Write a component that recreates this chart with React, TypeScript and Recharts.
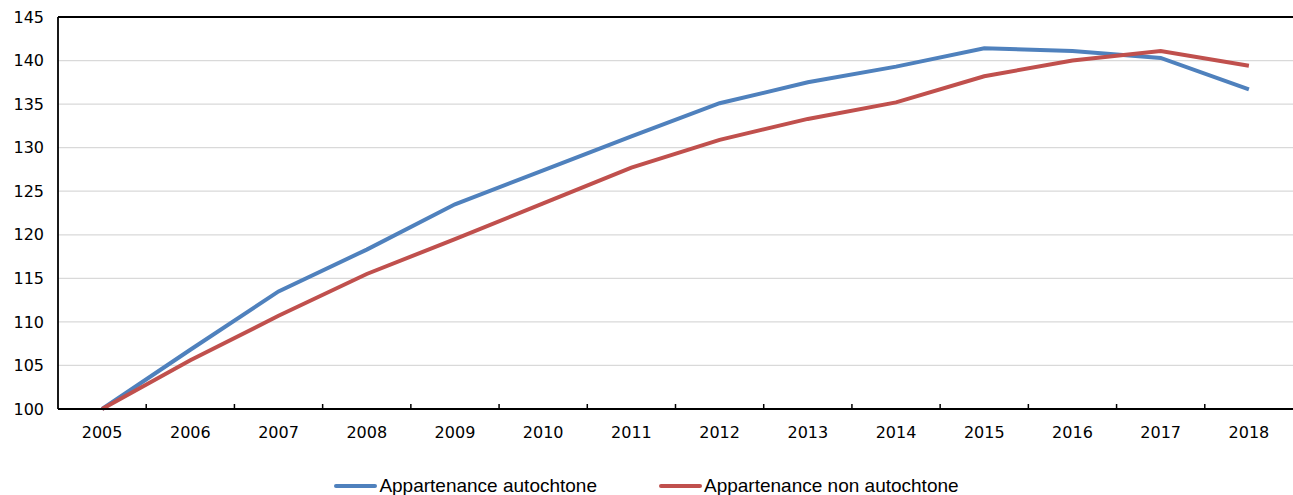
import React from 'react'
import { LineChart, Line, XAxis, YAxis, CartesianGrid, ReferenceLine } from 'recharts'

const years = ['2005', '2006', '2007', '2008', '2009', '2010', '2011', '2012', '2013', '2014', '2015', '2016', '2017', '2018']
const autochtone = [100, 106.8, 113.5, 118.3, 123.5, 127.4, 131.3, 135.1, 137.5, 139.3, 141.4, 141.1, 140.3, 136.7]
const nonAutochtone = [100, 105.6, 110.7, 115.5, 119.5, 123.6, 127.7, 130.9, 133.3, 135.2, 138.2, 140.0, 141.1, 139.4]
const yTicks = [100, 105, 110, 115, 120, 125, 130, 135, 140, 145]

const SERIES = [
  { key: 'autochtone', name: 'Appartenance autochtone', color: '#4F81BD' },
  { key: 'nonAutochtone', name: 'Appartenance non autochtone', color: '#C0504D' },
]

const data = years.map((year, i) => ({
  year,
  autochtone: autochtone[i],
  nonAutochtone: nonAutochtone[i],
}))

const W = 1293
const H = 495
const LEFT = 58
const FONT = '"DejaVu Sans", Verdana, sans-serif'

// label at the category centre, tick mark on the boundary to its left
const YearTick = (props: any) => {
  const { x, y, payload, index } = props
  const band = (W - LEFT) / years.length
  return (
    <g>
      {index > 0 && (
        <line x1={x - band / 2} x2={x - band / 2} y1={y} y2={y - 5} stroke="#000" strokeWidth={1.5} />
      )}
      <text x={x} y={y + 29} textAnchor="middle" fontSize={16} fontFamily={FONT} fill="#000">
        {payload.value}
      </text>
    </g>
  )
}

export default function App() {
  return (
    <div style={{ position: 'absolute', left: 0, top: 0, width: W, height: H, background: '#fff' }}>
      <LineChart width={W} height={H} data={data} margin={{ top: 17, right: 0, left: 0, bottom: 0 }}>
        <CartesianGrid vertical={false} stroke="#D9D9D9" strokeWidth={1.3} />
        <XAxis
          dataKey="year"
          scale="band"
          height={86}
          tickLine={false}
          tickSize={0}
          tickMargin={0}
          interval={0}
          axisLine={{ stroke: '#000', strokeWidth: 1.8 }}
          tick={<YearTick />}
        />
        <YAxis
          width={LEFT}
          domain={[100, 145]}
          ticks={yTicks}
          tickLine={false}
          tickSize={0}
          tickMargin={14}
          axisLine={{ stroke: '#000', strokeWidth: 1.8 }}
          tick={{ fontSize: 16, fontFamily: FONT, fill: '#000' }}
        />
        <ReferenceLine y={145} stroke="#000" strokeWidth={1.8} />
        {SERIES.map((s) => (
          <Line
            key={s.key}
            type="linear"
            dataKey={s.key}
            name={s.name}
            stroke={s.color}
            strokeWidth={4}
            dot={false}
            activeDot={false}
            isAnimationActive={false}
          />
        ))}
      </LineChart>
      <div
        style={{
          position: 'absolute',
          top: 474,
          left: 0,
          width: W,
          display: 'flex',
          justifyContent: 'center',
          gap: 62,
          fontFamily: '"Liberation Sans", Arial, sans-serif',
          fontSize: 19,
          lineHeight: '24px',
          color: '#000',
        }}
      >
        {SERIES.map((s) => (
          <div key={s.key} style={{ display: 'flex', alignItems: 'center' }}>
            <span style={{ display: 'inline-block', width: 43, height: 4, borderRadius: 2, background: s.color, marginRight: 2 }} />
            <span>{s.name}</span>
          </div>
        ))}
      </div>
    </div>
  )
}
